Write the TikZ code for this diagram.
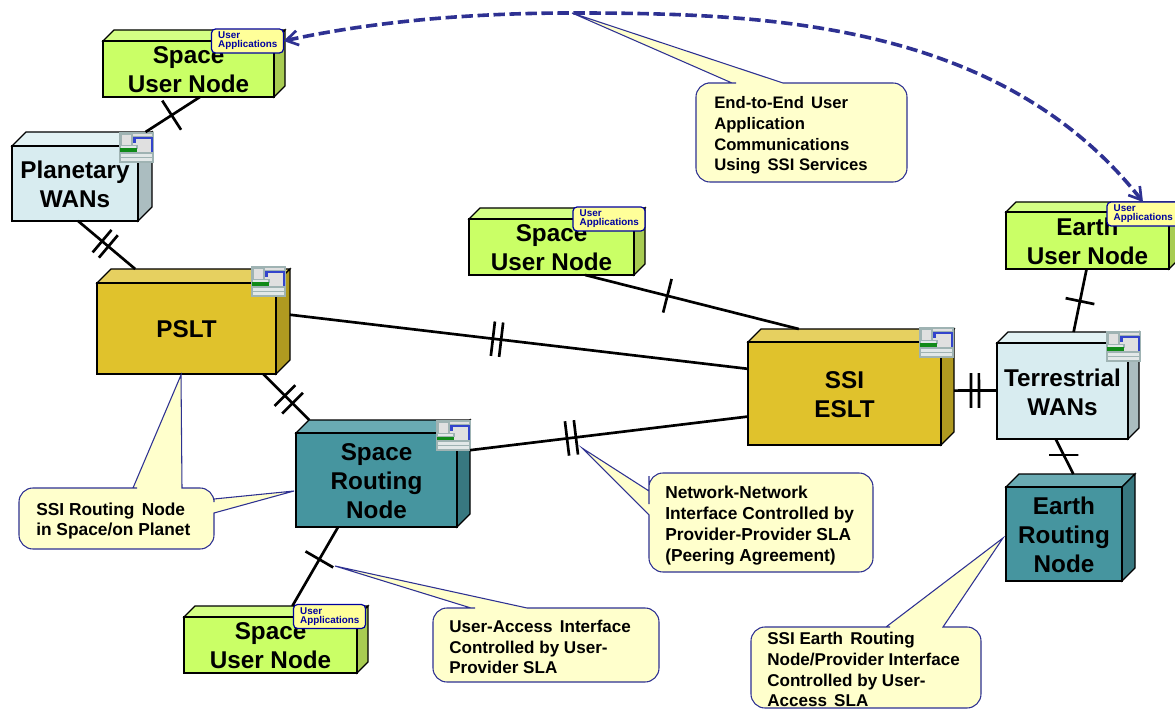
\documentclass[tikz,border=0pt]{standalone}
\usepackage{fontspec}
\setmainfont{Liberation Sans}
\usetikzlibrary{arrows.meta}
\definecolor{navy}{HTML}{2E3192}
\definecolor{calloutfill}{HTML}{FFFFCC}
\definecolor{tagfill}{HTML}{FFFF99}
\definecolor{tagink}{HTML}{0000A0}
\definecolor{gF}{HTML}{CAFF66}\definecolor{gT}{HTML}{D4FF85}\definecolor{gS}{HTML}{A8CC52}
\definecolor{bF}{HTML}{D8ECF0}\definecolor{bT}{HTML}{E2F2F4}\definecolor{bS}{HTML}{ABBDC0}
\definecolor{yF}{HTML}{E0C22C}\definecolor{yT}{HTML}{E6D060}\definecolor{yS}{HTML}{B09A20}
\definecolor{tF}{HTML}{46959F}\definecolor{tT}{HTML}{6AABB3}\definecolor{tS}{HTML}{387880}
\definecolor{iconedge}{HTML}{9FB3B3}\definecolor{iconcell}{HTML}{E0E0E0}\definecolor{iconrow}{HTML}{E2E8E8}
\definecolor{iconblue}{HTML}{3344CC}\definecolor{icongreen}{HTML}{108A18}
\newcommand{\gap}{\hspace{0.42em}}
\tikzset{
  face/.style={draw=black,line width=0.9pt,line join=miter},
  cubelabel/.style={font=\bfseries\fontsize{18.2}{21.75}\selectfont,align=center,inner sep=0pt},
  calloutbody/.style={draw=navy,fill=calloutfill,line width=0.8pt},
  callouttext/.style={font=\bfseries\fontsize{13}{15.6}\selectfont,align=left,anchor=west,inner sep=0pt},
  calloutsmall/.style={callouttext,font=\bfseries\fontsize{12.8}{15.6}\selectfont},
  callouttiny/.style={callouttext,font=\bfseries\fontsize{12.5}{15.6}\selectfont},
  tagbox/.style={draw=tagink,fill=tagfill,line width=0.9pt,rounded corners=3pt,anchor=north west,
    minimum width=54pt,minimum height=18pt,inner sep=0pt,outer sep=0pt,text=tagink,
    font=\bfseries\fontsize{7.4}{6.9}\selectfont,align=left,text width=44pt},
  link/.style={line width=2pt,black},
  hashmark/.style={draw=black,line width=2pt,inner sep=0pt,outer sep=0pt,minimum width=0pt,minimum height=26pt,sloped},
  flathash/.style={draw=black,line width=2pt,inner sep=0pt,outer sep=0pt,minimum height=0pt,minimum width=22pt},
  endtoend/.style={draw=navy,line width=2.7pt,dash pattern=on 8.5pt off 3.5pt,
    {Straight Barb[length=9pt,width=11pt,line width=2pt]}-{Straight Barb[length=9pt,width=11pt,line width=2pt]}}
}
% name x0 y0 x1 y1 depth colourprefix text
\newcommand{\cubebox}[8]{%
  \filldraw[face,fill=#7T] (#2,#3) -- ({#2+#6},{#3-#6}) -- ({#4+#6},{#3-#6}) -- (#4,#3) -- cycle;
  \filldraw[face,fill=#7S] (#4,#3) -- ({#4+#6},{#3-#6}) -- ({#4+#6},{#5-#6}) -- (#4,#5) -- cycle;
  \filldraw[face,fill=#7F] (#2,#3) rectangle (#4,#5);
  \node (#1) [inner sep=0pt,outer sep=0pt,anchor=south west,
     minimum width={(#4+#6-#2)*0.75pt},minimum height={(#5-#3+#6)*0.75pt}] at (#2,#5) {};
  \node (#1-t) [cubelabel] at ({(#2+#4)/2},{(#3+#5)/2+1}) {#8};
}
\newcommand{\winicon}[2]{%
  \begin{scope}[shift={(#1,#2)}]
    \fill[iconcell] (0,0) rectangle (33,29);
    \draw[iconedge,line width=1pt] (0,0) rectangle (33,29);
    \draw[iconedge,line width=0.9pt,fill=iconcell] (1,1) rectangle (12,13);
    \draw[iconedge,line width=0.7pt] (12,3) -- (33,3);
    \draw[iconblue,line width=2pt] (14.5,10) -- (14.5,5) -- (32,5) -- (32,19);
    \draw[iconedge,line width=0.8pt,fill=iconrow] (0,12.5) rectangle (17,15.5);
    \fill[icongreen] (0,15.5) rectangle (17,20);
    \draw[iconedge,line width=0.8pt,fill=iconrow] (0,20) rectangle (33,24.5);
    \draw[iconedge,line width=0.8pt,fill=iconrow] (0,24.5) rectangle (33,29);
  \end{scope}
}
\begin{document}
\begin{tikzpicture}[x=0.75pt,y=-0.75pt]
\useasboundingbox (0,0) rectangle (1175,709);
\clip (0,0) rectangle (1175,709);
\fill[white] (0,0) rectangle (1175,709);

% cubes
\cubebox{suA}{103}{41}{274}{97}{11}{g}{Space\\User Node}
\cubebox{pw}{12}{146}{138}{221}{14}{b}{Planetary\\WANs}
\cubebox{ps}{97}{283}{276}{374}{14}{y}{PSLT}
\cubebox{sr}{296}{433}{457}{527}{13}{t}{Space\\Routing\\Node}
\cubebox{suB}{469}{219}{634}{275}{11}{g}{Space\\User Node}
\cubebox{es}{748}{342}{941}{445}{13}{y}{SSI\\ESLT}
\cubebox{tw}{997}{343}{1128}{439}{11}{b}{Terrestrial\\WANs}
\cubebox{eu}{1006}{212}{1169}{269}{10}{g}{Earth\\User Node}
\cubebox{er}{1006}{487}{1122}{581}{13}{t}{Earth\\Routing\\Node}
\cubebox{suC}{184}{617}{357}{673}{11}{g}{Space\\User Node}

% window icons
\winicon{120}{133}
\winicon{252}{267}
\winicon{437}{421}
\winicon{920}{328}
\winicon{1107}{332}

% user application tags
\node (tagA) [tagbox] at (211.5,29) {User\\Applications};
\node (tagB) [tagbox] at (573,207) {User\\Applications};
\node (tagC) [tagbox] at (293.5,604.5) {User\\Applications};
\node (tagD) [tagbox] at (1107,202) {User\\Applications};

% connectors
\draw[link] (suA.-80.7) -- (pw.35.2) node (h1) [hashmark,pos=.52] {};
\draw[link] (pw.-95.1) -- (ps.138.1)
   node (h2) [hashmark,pos=.42,minimum height=22pt] {} node (h3) [hashmark,pos=.53,minimum height=22pt] {};
\draw[link] (ps.4.4) -- (es.170.6)
   node (h4) [hashmark,pos=.443] {} node (h5) [hashmark,pos=.461] {};
\draw[link] (ps.-37.5) -- (sr.144)
   node (h6) [hashmark,pos=.47,minimum height=22pt] {} node (h7) [hashmark,pos=.635,minimum height=22pt] {};
\draw[link] (sr.15.4) -- (es.196.2)
   node (h8) [hashmark,pos=.349] {} node (h9) [hashmark,pos=.381] {};
\draw[link] (suB.-50.5) -- (es.132.4) node (h10) [hashmark,pos=.385] {};
\draw[link] (es.-2.2) -- (tw.184.4)
   node (h11) [hashmark,pos=.395] {} node (h12) [hashmark,pos=.58] {};
\draw[link] (tw.84.1) -- (eu.-100.2) node (h13) [hashmark,pos=.49,minimum height=22pt] {};
\draw[link] (tw.-103.2) -- (er.87.3) node (h14) [flathash,pos=.46] {};
\draw[link] (sr.-130.3) -- (suC.64.8) node (h15) [hashmark,pos=.41,minimum height=24pt] {};

% end-to-end arrow
\draw[endtoend] (tagA.east) .. controls (380,20) and (480,13) .. (572,13) .. controls (760,13) and (1000,20) .. (tagD.north);

% callouts
\draw[calloutbody] (732,83) -- (572,13) -- (783,83) [rounded corners=10.5pt] -- (907,83) -- (907,182) -- (696,182) -- (696,83) -- (722,83) [sharp corners] -- cycle;
\node (c1) [callouttiny] at (714,135.5) {End-to-End\gap User\\Application\\Communications\\Using\gap SSI Services};

\draw[calloutbody] (133,488) -- (181,375) -- (182,488) [rounded corners=10.5pt] -- (214,488) [sharp corners] -- (214,499) -- (294,491) -- (214,513) [rounded corners=10.5pt] -- (214,549) -- (19,549) -- (19,488) -- (123,488) [sharp corners] -- cycle;
\node (c2) [callouttext] at (36,521) {SSI Routing\gap Node\\in Space/on Planet};

\draw[calloutbody] (649,491) -- (582,448) -- (649,515) [rounded corners=10.5pt] -- (649,572) -- (873,572) -- (873,473) -- (649,473) -- (649,490) [sharp corners] -- cycle;
\node (c3) [callouttext] at (665,525.5) {Network-Network\\Interface Controlled by\\Provider-Provider SLA\\(Peering Agreement)};

\draw[calloutbody] (471,608) -- (335,566) -- (527,608) [rounded corners=10.5pt] -- (659,608) -- (659,682) -- (433,682) -- (433,608) -- (461,608) [sharp corners] -- cycle;
\node (c4) [calloutsmall] at (449,647) {User-Access\gap Interface\\Controlled by User-\\Provider SLA};

\draw[calloutbody] (886,627) -- (1003,538) -- (943,627) [rounded corners=10.5pt] -- (981,627) -- (981,708) -- (751,708) -- (751,627) -- (876,627) [sharp corners] -- cycle;
\node (c5) [calloutsmall] at (767,669.5) {SSI Earth\gap Routing\\Node/Provider Interface\\Controlled by User-\\Access\gap SLA};
\end{tikzpicture}
\end{document}
